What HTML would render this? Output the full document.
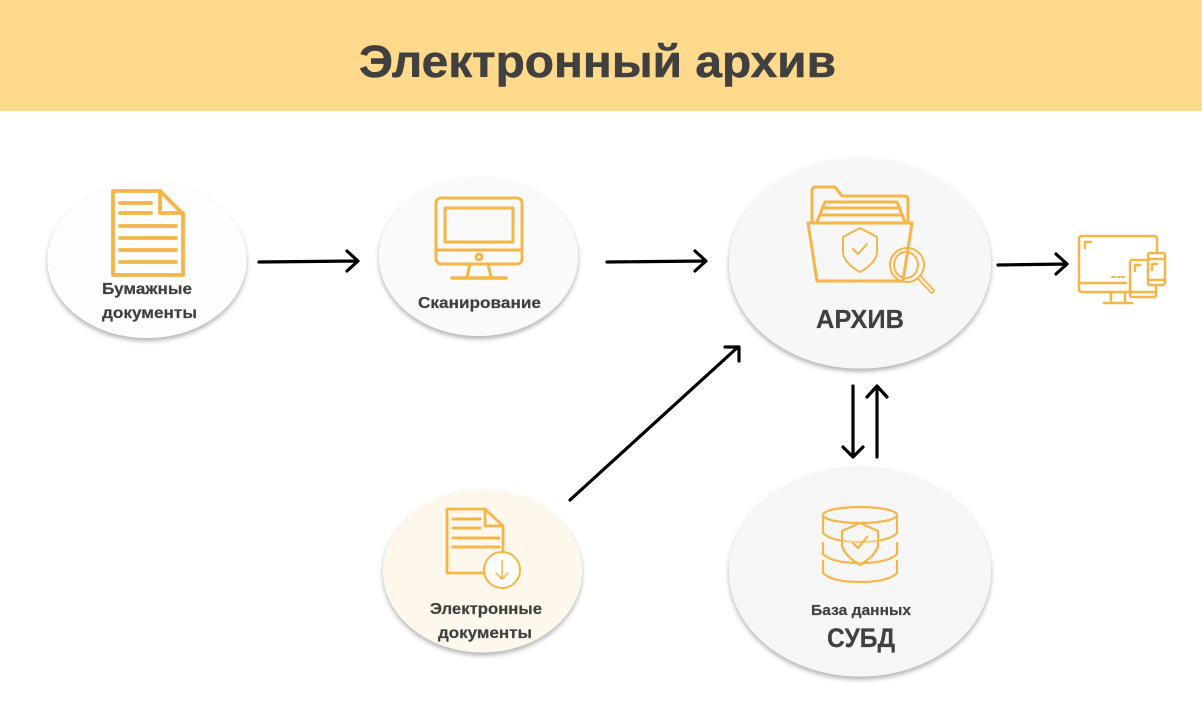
<!DOCTYPE html>
<html lang="ru">
<head>
<meta charset="utf-8">
<title>Электронный архив</title>
<style>
html,body{margin:0;padding:0;background:#fff;width:1202px;height:712px;overflow:hidden}
svg{display:block}
text{font-family:"Liberation Sans","DejaVu Sans",sans-serif;font-weight:700;fill:#404040;stroke:#404040;stroke-width:.2px}
</style>
</head>
<body>
<svg width="1202" height="712" viewBox="0 0 1202 712" xmlns="http://www.w3.org/2000/svg">
<defs>
<filter id="s" x="-20%" y="-20%" width="140%" height="140%">
<feDropShadow dx="0" dy="3" stdDeviation="2.500" flood-color="#000" flood-opacity=".3"/>
</filter>
<filter id="b" x="-10%" y="-10%" width="120%" height="120%"><feGaussianBlur stdDeviation=".35"/></filter>
</defs>
<rect width="1202" height="712" fill="#fff"/>
<rect width="1202" height="111" fill="#ffd98c"/>
<text x="359" y="77" font-size="45" textLength="477" lengthAdjust="spacingAndGlyphs" style="stroke-width:.5px">Электронный архив</text>

<!-- circles -->
<ellipse cx="147" cy="260" rx="99.500" ry="78" fill="#fdfdfd" filter="url(#s)"/>
<ellipse cx="478.500" cy="256.500" rx="99.500" ry="79.500" fill="#fafafa" filter="url(#s)"/>
<ellipse cx="860" cy="263" rx="131" ry="105.500" fill="#f7f7f7" filter="url(#s)"/>
<ellipse cx="482.500" cy="571" rx="99.500" ry="81.500" fill="#fef8ec" filter="url(#s)"/>
<ellipse cx="860" cy="571.500" rx="131" ry="105" fill="#f6f6f6" filter="url(#s)"/>

<g filter="url(#b)">
<!-- paper doc icon -->
<g fill="none" stroke="#f4b548" stroke-width="3.800" stroke-linejoin="round" stroke-linecap="round">
<path d="M113 191H160L183 214V275H113Z"/>
<path d="M160 191V213H183"/>
<path d="M120 203H151M120 213H151M120 226H176M120 238H176M120 250H176M120 262H176"/>
</g>

<!-- monitor icon -->
<g fill="none" stroke="#f4b548" stroke-width="3" stroke-linecap="round" stroke-linejoin="round">
<rect x="436" y="198" width="86" height="66" rx="5"/>
<rect x="445" y="208" width="68" height="34"/>
<path d="M436 250H522"/>
<circle cx="479" cy="257" r="3"/>
<path d="M470 264L467 277M488 264L491 277"/>
<path d="M452 278H506" stroke-width="3.500"/>
</g>

<!-- folder icon -->
<g fill="none" stroke="#f4b548" stroke-width="3" stroke-linecap="round" stroke-linejoin="round">
<path d="M812 222V191Q812 187 816 187H835L842 196H904Q908 196 908 200V222"/>
<path d="M817 222L825 202H897L905 222"/>
<path d="M822 208H900M820 215H902"/>
<path d="M808 223H912L903 281H817Z"/>
<path d="M860 228L877 237V253Q875 264 860 272Q845 264 843 253V237Z" stroke-width="2"/>
<path d="M853 249L858 254L867 244" stroke-width="2"/>
<circle cx="907" cy="265" r="17" stroke-width="2"/>
<ellipse cx="906" cy="265" rx="12" ry="13" stroke-width="2"/>
<path d="M920 278L932 291" stroke-width="5.500"/>
<path d="M920 278L932 291" stroke="#f7f7f7" stroke-width="2"/>
</g>

<!-- devices icon -->
<g fill="none" stroke="#f4b548" stroke-width="2.500" stroke-linecap="round" stroke-linejoin="round">
<path d="M1130 292H1082Q1079 292 1079 289V239Q1079 236 1082 236H1154Q1157 236 1157 239V253"/>
<path d="M1079 283H1126"/>
<path d="M1112 277H1115M1118 277H1120M1122 277H1124" stroke-width="2"/>
<path d="M1111 292V303M1125 292V303M1104 303H1132"/>
<rect x="1130" y="260" width="26" height="37" rx="2" fill="#fff"/>
<path d="M1130 292H1156"/>
<rect x="1148" y="253" width="17" height="32" rx="2" fill="#fff"/>
<path d="M1148 259H1165M1148 280H1165"/>
<path d="M1085 248V242H1091M1135 271V265H1140M1152 270V264H1157" stroke-width="2.500"/>
</g>

<!-- e-doc icon -->
<g fill="none" stroke="#f4b548" stroke-linecap="round" stroke-linejoin="round">
<path d="M485 573H447V509H485L503 526V552" stroke-width="2.800"/>
<path d="M485 509V526H503" stroke-width="2.800"/>
<path d="M453 519H480M453 528H480M453 538H499M453 547H499" stroke-width="3"/>
<circle cx="502" cy="570" r="18" fill="#fffdf8" stroke-width="2"/>
<path d="M502 561V579M496 573L502 579L508 573" stroke-width="1.500"/>
</g>

<!-- db icon -->
<g fill="none" stroke="#f4b548" stroke-width="2.200" stroke-linecap="round" stroke-linejoin="round">
<ellipse cx="860" cy="515" rx="37" ry="8"/>
<path d="M823 517V533Q832 542 860 542Q888 542 897 533V517"/>
<path d="M823 543V554Q832 563 860 563Q888 563 897 554V543"/>
<path d="M823 561V573Q832 582 860 582Q888 582 897 573V561"/>
<path d="M860 523L878 531V546Q875 556 860 565Q845 556 842 546V531Z" fill="#f6f6f6" fill-opacity=".4"/>
<path d="M853 543L858 548L867 537"/>
</g>

<!-- arrows -->
<g fill="none" stroke="#000" stroke-width="3.200" stroke-linecap="round" stroke-linejoin="round">
<path d="M259 262L357 261M347 251L358 261L347 271"/>
<path d="M607 262L705 261M695 251L706 261L695 271"/>
<path d="M998 265L1067 264M1056 254L1067 264L1056 274"/>
<path d="M570 500L738 347M725 347H739V361"/>
<path d="M853 386V456M843 447L853 457L863 447"/>
<path d="M877 457V387M867 397L877 386L887 397"/>
</g>
</g>

<!-- labels -->
<text x="102" y="294" font-size="16" textLength="90" lengthAdjust="spacingAndGlyphs">Бумажные</text>
<text x="102" y="318" font-size="16" textLength="95" lengthAdjust="spacingAndGlyphs">документы</text>
<text x="418" y="308" font-size="16" textLength="123" lengthAdjust="spacingAndGlyphs">Сканирование</text>
<text x="816" y="328" font-size="26" textLength="88" lengthAdjust="spacingAndGlyphs">АРХИВ</text>
<text x="430" y="614" font-size="16" textLength="112" lengthAdjust="spacingAndGlyphs">Электронные</text>
<text x="438" y="638" font-size="16" textLength="94" lengthAdjust="spacingAndGlyphs">документы</text>
<text x="811" y="615" font-size="15" textLength="100" lengthAdjust="spacingAndGlyphs">База данных</text>
<text x="827" y="647" font-size="27" textLength="68" lengthAdjust="spacingAndGlyphs">СУБД</text>
</svg>
</body>
</html>
